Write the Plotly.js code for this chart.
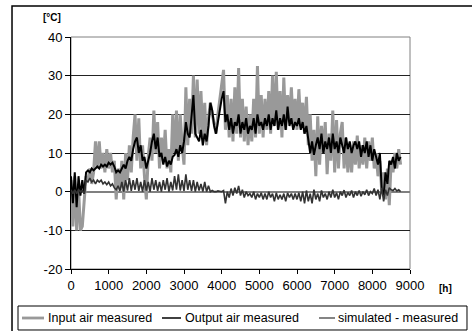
<!DOCTYPE html>
<html>
<head>
<meta charset="utf-8">
<script src="https://cdn.plot.ly/plotly-3.0.1.min.js"></script>
<style>html,body{margin:0;padding:0;background:#fff;}#chart{width:472px;height:331px;}</style>
</head>
<body>
<div id="chart"></div>
<script>
// Hours of the year (sampled)
const hours = [0,50,100,150,200,250,300,350,400,450,500,550,600,650,700,750,800,850,900,950,
1000,1050,1100,1150,1200,1250,1300,1350,1400,1450,1500,1550,1600,1650,1700,1750,1800,1850,1900,1950,
2000,2050,2100,2150,2200,2250,2300,2350,2400,2450,2500,2550,2600,2650,2700,2750,2800,2850,2900,2950,
3000,3050,3100,3150,3200,3250,3300,3350,3400,3450,3500,3550,3600,3650,3700,3750,3800,3850,3900,3950,
4000,4050,4100,4150,4200,4250,4300,4350,4400,4450,4500,4550,4600,4650,4700,4750,4800,4850,4900,4950,
5000,5050,5100,5150,5200,5250,5300,5350,5400,5450,5500,5550,5600,5650,5700,5750,5800,5850,5900,5950,
6000,6050,6100,6150,6200,6250,6300,6350,6400,6450,6500,6550,6600,6650,6700,6750,6800,6850,6900,6950,
7000,7050,7100,7150,7200,7250,7300,7350,7400,7450,7500,7550,7600,7650,7700,7750,7800,7850,7900,7950,
8000,8050,8100,8150,8200,8250,8300,8350,8400,8450,8500,8550,8600,8650,8700,8750];

// Input air measured [°C]
const inputAir = [3,-9,4,-10,1,-10,-9,-1,
4,3,6,2,5,13,6,13,
6,10,5,11,6,10,5,8,
-2,6,1,8,-2,10,3,12,
5,14,20,8,19,6,12,4,
-2,9,14,8,21,10,18,6,
14,8,16,6,11,5,20,10,
21,8,20,12,7,27,12,24,
15,30,14,29,15,26,14,23,
12,19,23,20,17,15,20,24,
27,31.5,16,25,14,24,13,27,
15,32,14,24,13,22,12,20,
13,24,14,32.5,15,25,14,24,
16,26,15,30,17,31,16,26,
14,29.5,16,25,18,27,17,24,
16,26.5,17,23,15,24.5,12,20,
8,16,4,19.5,7,17,10,18,
4.5,15,8,21,5,18.5,6,15,
18,6,14,5,12,5,13,7,
14.5,6,12,7,14,6,13,8,
14,6,10,4,8,0,5,-2,
6,-3.5,8,5,10,6,11,7];

// Output air measured [°C]
const outputAir = [4,-3,5,-4,4,-1,3,-0.5,
5,5.5,5,6,5.5,6,6.5,6,
7,6.5,7,6.5,7.5,7,7.5,6.5,
5,5.5,5,6,7,6,8,9,
8,11,13,14,10,12,8,9,
6,8,10,13,15,11,14,9,
10,7,9,6.5,8,7,9,9.5,
11,9,12,10,13,18,15,14,
20,25,15,14,13,16,12,15,
13,17,23,21,17,15,18,22,
24,26,18,20,16,19,15,18,
17,20,15,18,16,19,15,17,
16,19,15,20,17,18,16,19,
17,20,16,19,17,21,16,19,
17,20,16,22,17,19,16,18,
17,19,16,18,15,17,14,10,
13,9.5,12,14,11,15,10,13,
11,14,10,15,11,13,10,14,
12,10,14,11,13,10,12,13,
11,13,9,12,10,13,9,12,
8,11,9,7,10,0.5,-1,5,
2,8,7,9,6,10,8,9];

// Simulated - measured [K]
const simMinusMeas = [0.5,-0.5,0.5,-0.5,0.5,0,0.3,-0.5,
3,2.5,3.5,2.5,3,2,3,2.5,
3,2,2.5,1.8,2.5,1.5,2,1,
0.5,1.5,0.2,2.5,0,3,0.3,3.5,
0.2,3,0.5,3.5,0.2,2.5,0,3,
0.3,2.5,0,3.5,0.5,3,0.2,2.5,
0,3,0.5,3.5,0,2.5,0.3,4,
0.5,4.5,0.3,3,0.2,4.5,0.5,3,
0.2,3,0,2.5,0.3,2,0,2.5,
0,1.5,0,0.3,0,0,0.2,0,
0,0.3,-3,0,-1.5,0.8,-1,1,
-0.5,1.5,-1,0.5,-1.5,0,-1,-0.5,
-1.5,0,-2,-0.5,-1.5,-0.3,-2,-0.5,
-2,0,-1.5,-0.5,-2.5,-0.3,-2,-0.8,
-2,-0.5,-2.5,-0.3,-1.5,-0.5,-2,-0.5,
-2,-0.3,-2.5,0,-3,0.3,-2.5,-0.5,
-3,0.5,-2,-0.5,-2.5,0.3,-1.5,-0.5,
-2,0,-1.5,0.5,-1.5,-0.3,-2,0,
-1,0.4,-1.5,-0.2,-1,0.3,-1.5,0,
-1,0.3,-1.2,0,-0.8,0.5,-1,0,
-0.5,0.8,-1,0.5,-2,1,-2.5,0.5,
-1,1,0.5,0.3,0.8,0.2,0.5,0];

const seriesNames = ["Input air measured", "Output air measured", "simulated - measured"];
const seriesColors = ["#999999", "#000000", "#333333"];
const seriesWidths = [3, 2, 1.6];
const legendWidths = [2.8, 1.5, 1.2];
const xTicks = [0,1000,2000,3000,4000,5000,6000,7000,8000,9000];
const yTicks = [-20,-10,0,10,20,30,40];

const FONT = "Liberation Sans, Arial, sans-serif";
const dataSets = [inputAir, outputAir, simMinusMeas];

const traces = dataSets.map((ys, k) => ({
  x: hours, y: ys, name: seriesNames[k], type: "scatter", mode: "lines",
  line: {color: seriesColors[k], width: seriesWidths[k]}, showlegend: false
}));

// Custom legend placement (paper coordinates, outside the plot area)
const legY = -0.2112;
const legItems = [
  {x0: -0.1445, x1: -0.0797, tx: -0.0738},
  {x0: 0.2684, x1: 0.3245, tx: 0.3304},
  {x0: 0.7316, x1: 0.7788, tx: 0.7817}
];
const legendShapes = legItems.map((it, k) => ({
  type: "line", xref: "paper", yref: "paper", x0: it.x0, x1: it.x1, y0: legY, y1: legY,
  line: {color: seriesColors[k], width: legendWidths[k]}
}));
const legendTexts = legItems.map((it, k) => ({
  text: seriesNames[k], xref: "paper", yref: "paper", x: it.tx, y: legY,
  xanchor: "left", yanchor: "middle", showarrow: false,
  font: {family: FONT, size: 12.5, color: "#000"}
}));

const layout = {
  width: 472, height: 331,
  margin: {l: 71, r: 62, t: 37, b: 62},
  paper_bgcolor: "#ffffff", plot_bgcolor: "#ffffff",
  font: {family: FONT, size: 13, color: "#000"},
  showlegend: false,
  xaxis: {range: [0, 9000], tickvals: xTicks, ticktext: xTicks.map(String),
    showgrid: false, zeroline: false, showline: true, linecolor: "#000", linewidth: 1,
    ticks: "outside", ticklen: 4, tickcolor: "#000", tickfont: {size: 13}},
  yaxis: {range: [-20, 40], tickvals: yTicks, ticktext: yTicks.map(String),
    showgrid: true, gridcolor: "#222", gridwidth: 1,
    zeroline: true, zerolinecolor: "#808080", zerolinewidth: 2,
    showline: true, linecolor: "#000", linewidth: 1,
    ticks: "outside", ticklen: 5, tickcolor: "#000", tickfont: {size: 13}},
  shapes: [
    {type: "rect", xref: "paper", yref: "paper", x0: 0, x1: 1, y0: 0, y1: 1,
     line: {color: "#808080", width: 1}, layer: "below"},
    {type: "rect", xref: "paper", yref: "paper", x0: -0.174, x1: 1.25, y0: -0.3, y1: 1.1336,
     line: {color: "#000", width: 1.5}, layer: "below"},
    {type: "rect", xref: "paper", yref: "paper", x0: -0.1563, x1: 1.1681, y0: -0.2629, y1: -0.1595,
     line: {color: "#000", width: 1}, fillcolor: "#fff", layer: "below"}
  ].concat(legendShapes),
  annotations: [
    {text: "<b>[°C]</b>", xref: "paper", yref: "paper", x: -0.056, y: 1.086,
     xanchor: "center", yanchor: "middle", showarrow: false, font: {size: 10}},
    {text: "<b>[h]</b>", xref: "paper", yref: "paper", x: 1.104, y: -0.082,
     xanchor: "center", yanchor: "middle", showarrow: false, font: {size: 10}},
    {text: "(b)", xref: "paper", yref: "paper", x: 0.506, y: 1.163,
     xanchor: "center", yanchor: "bottom", showarrow: false, font: {size: 14}}
  ].concat(legendTexts)
};

Plotly.newPlot("chart", traces, layout, {staticPlot: true, displayModeBar: false});
</script>
</body>
</html>
